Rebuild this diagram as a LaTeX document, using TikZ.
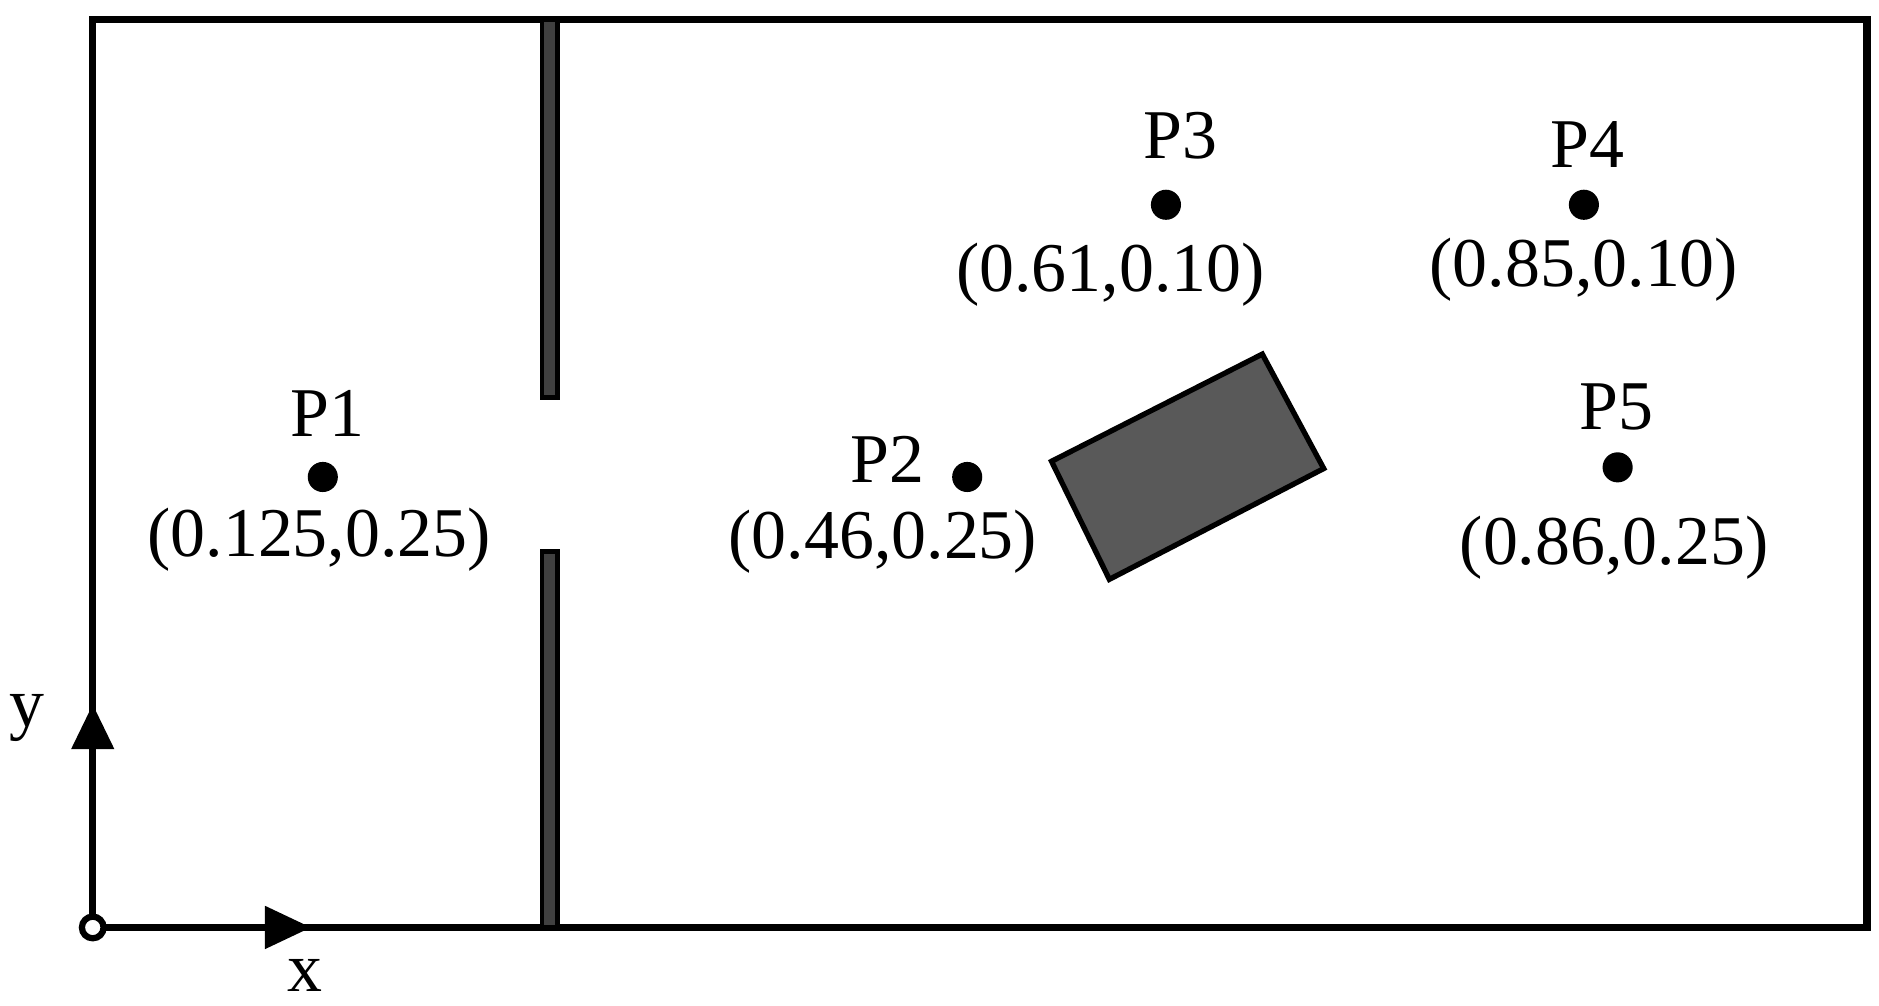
\documentclass[tikz,border=0pt]{standalone}
\usepackage{fontspec}
\setmainfont{Liberation Serif}
\begin{document}
\begin{tikzpicture}[x=0.5pt,y=-0.5pt,
  lbl/.style={font=\fontsize{29}{34}\selectfont,inner sep=0pt},
  pt/.style={circle,fill=black,inner sep=0pt,minimum size=12.5pt}]
\useasboundingbox (0,0) rectangle (1560,835);
\draw[line width=3pt] (77,16) rectangle (1550,770);
\draw[line width=2pt,fill=black!75] (450,16) rectangle (463,330);
\draw[line width=2pt,fill=black!75] (450,458) rectangle (463,770);
\coordinate (o) at (77,770);
\coordinate (xt) at (258,770);
\coordinate (yt) at (77,585);
\fill (220,752) -- (xt) -- (220,788) -- cycle;
\fill (59,622) -- (yt) -- (95,622) -- cycle;
\node[circle,draw,line width=2.6pt,fill=white,inner sep=0pt,minimum size=9pt] (org) at (o) {};
\node[lbl] (xl) at (253,810) {x};
\node[lbl] (yl) at (22,596) {y};
\fill[black!65,draw=black,line width=2.2pt] (873,383) -- (1048,294) -- (1099,389) -- (921,481) -- cycle;
\node[pt] (p1) at (268,396) {};
\node[pt] (p2) at (803,396) {};
\node[pt] (p3) at (968,170) {};
\node[pt] (p4) at (1315,170) {};
\node[pt] (p5) at (1343,388) {};
\node[lbl] (l1) at (272,343) {P1};
\node[lbl] (c1) at (265,448) {(0.125,0.25)};
\node[lbl] (l2) at (737,381) {P2};
\node[lbl] (c2) at (733,450) {(0.46,0.25)};
\node[lbl] (l3) at (980,113) {P3};
\node[lbl] (c3) at (922,228) {(0.61,0.10)};
\node[lbl] (l4) at (1318,120) {P4};
\node[lbl] (c4) at (1315,224) {(0.85,0.10)};
\node[lbl] (l5) at (1342,338) {P5};
\node[lbl] (c5) at (1340,455) {(0.86,0.25)};
\end{tikzpicture}
\end{document}
